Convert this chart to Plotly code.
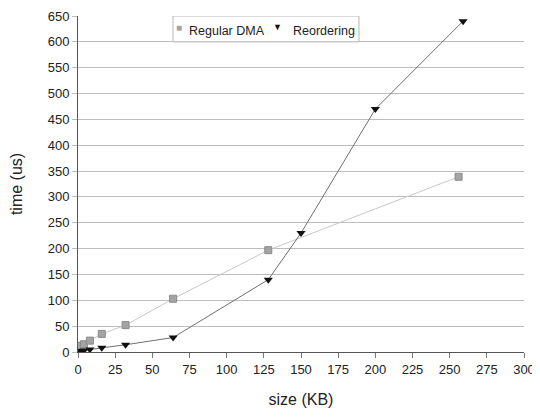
import plotly.graph_objects as go

reg_x = [0.5, 1, 2, 4, 8, 16, 32, 64, 128, 256]
reg_y = [8, 10, 12, 15, 22, 35, 52, 103, 197, 339]
reo_x = [0.5, 1, 2, 4, 8, 16, 32, 64, 128, 150, 200, 259]
reo_y = [1, 1, 2, 3, 5, 8, 14, 28, 140, 230, 470, 640]
x_ticks = list(range(0, 301, 25))
y_ticks = list(range(0, 651, 50))
series_names = ["Regular DMA", "Reordering"]

reg_marker = dict(symbol="square", size=7, color="#a4a4a4", line=dict(color="#8a8a8a", width=1))
reo_marker = dict(symbol="triangle-down", size=8, color="#111111")

fig = go.Figure()
fig.add_trace(go.Scatter(x=reg_x, y=reg_y, mode="lines+markers", name=series_names[0],
                         line=dict(color="#c8c8c8", width=1), marker=reg_marker))
fig.add_trace(go.Scatter(x=reo_x, y=reo_y, mode="lines+markers", name=series_names[1],
                         line=dict(color="#707070", width=1), marker=reo_marker))

# custom legend box (markers only, as in the reference)
fig.add_shape(type="rect", xref="paper", yref="y", x0=0.213, x1=0.630, y0=600, y1=650,
              fillcolor="white", line=dict(color="#b5b5b5", width=1), layer="above")
fig.add_annotation(xref="paper", yref="y", x=0.2265, y=628, text="■", showarrow=False,
                   font=dict(size=10, color="#a4a4a4"), xanchor="center", yanchor="middle")
fig.add_annotation(xref="paper", yref="y", x=0.245, y=621, text=series_names[0], showarrow=False,
                   font=dict(size=12.5, color="#222222"), xanchor="left", yanchor="middle")
fig.add_annotation(xref="paper", yref="y", x=0.4462, y=629, text="▼", showarrow=False,
                   font=dict(size=9, color="#111111"), xanchor="center", yanchor="middle")
fig.add_annotation(xref="paper", yref="y", x=0.478, y=621, text=series_names[1], showarrow=False,
                   font=dict(size=12.5, color="#222222"), xanchor="left", yanchor="middle")

fig.update_layout(
    width=532, height=410,
    margin=dict(l=70, r=16, t=8, b=66, autoexpand=False),
    paper_bgcolor="white", plot_bgcolor="white",
    font=dict(family="Liberation Sans, Arial, sans-serif", color="#222222", size=13),
    showlegend=False,
    xaxis=dict(range=[0, 300], tickvals=x_ticks, showgrid=False, zeroline=False,
               showline=True, linecolor="#555555", linewidth=1,
               ticks="outside", ticklen=5, tickcolor="#777777", automargin=False,
               title=dict(text="size (KB)", font=dict(size=16), standoff=18)),
    yaxis=dict(range=[0, 650], tickvals=y_ticks, showgrid=True, gridcolor="#bdbdbd",
               gridwidth=1, zeroline=False, showline=True, linecolor="#555555",
               linewidth=1, ticks="outside", ticklen=5, tickcolor="#bdbdbd",
               automargin=False,
               title=dict(text="time (us)", font=dict(size=16), standoff=23)),
)
fig.write_html("out.html")
